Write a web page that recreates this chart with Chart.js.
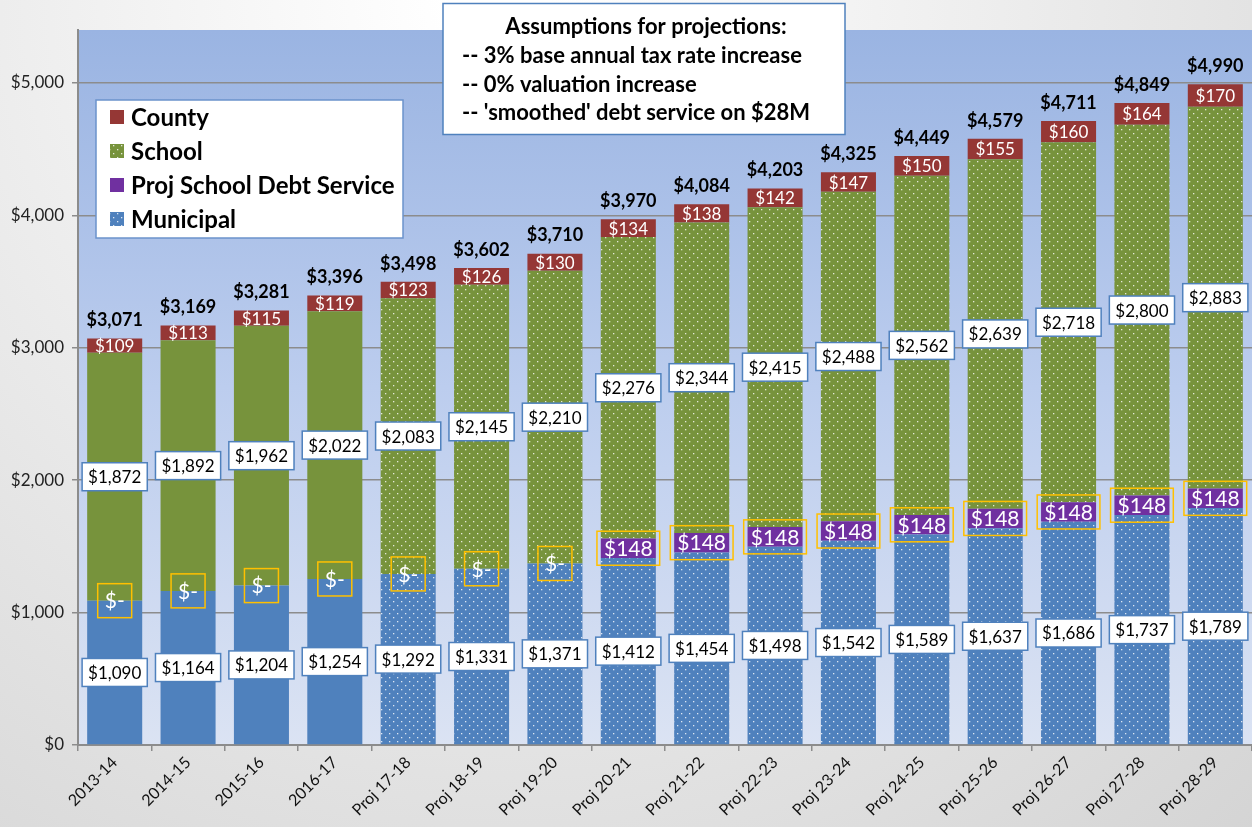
<!DOCTYPE html>
<html>
<head>
<meta charset="utf-8">
<script src="https://cdn.jsdelivr.net/npm/chart.js@4/dist/chart.umd.min.js"></script>
<style>
  body { margin: 0; background: #eee; }
  #wrap { width: 1252px; height: 827px; position: relative; }
</style>
</head>
<body>
<div id="wrap"><canvas id="grafico"></canvas></div>
<script>
const categories = ['2013-14', '2014-15', '2015-16', '2016-17', 'Proj 17-18', 'Proj 18-19', 'Proj 19-20',
  'Proj 20-21', 'Proj 21-22', 'Proj 22-23', 'Proj 23-24', 'Proj 24-25', 'Proj 25-26', 'Proj 26-27',
  'Proj 27-28', 'Proj 28-29'];
const municipal = [1090, 1164, 1204, 1254, 1292, 1331, 1371, 1412, 1454, 1498, 1542, 1589, 1637, 1686, 1737, 1789];
const debtService = [0, 0, 0, 0, 0, 0, 0, 148, 148, 148, 148, 148, 148, 148, 148, 148];
const school = [1872, 1892, 1962, 2022, 2083, 2145, 2210, 2276, 2344, 2415, 2488, 2562, 2639, 2718, 2800, 2883];
const county = [109, 113, 115, 119, 123, 126, 130, 134, 138, 142, 147, 150, 155, 160, 164, 170];
const totals = [3071, 3169, 3281, 3396, 3498, 3602, 3710, 3970, 4084, 4203, 4325, 4449, 4579, 4711, 4849, 4990];
const yTicks = [0, 1000, 2000, 3000, 4000, 5000];
const assumptions = ['Assumptions for projections:', '-- 3% base annual tax rate increase',
  '-- 0% valuation increase', "-- 'smoothed' debt service on $28M"];

const FONT = 'Lato, "Open Sans", sans-serif';
const firstProj = 4;

function makePattern(color) {
  const c = document.createElement('canvas');
  c.width = 8; c.height = 8;
  const g = c.getContext('2d');
  g.fillStyle = color;
  g.fillRect(0, 0, 8, 8);
  g.fillStyle = 'rgba(255,255,255,0.8)';
  g.fillRect(1, 1, 1.3, 1.3);
  g.fillRect(5, 5, 1.3, 1.3);
  return g.createPattern(c, 'repeat');
}

function fills(color) {
  const pat = makePattern(color);
  return categories.map((c, i) => i >= firstProj ? pat : color);
}

const money = v => '$' + v.toLocaleString('en-US');

function box(ctx, x, y, w, h, fill, stroke, lw) {
  if (fill) { ctx.fillStyle = fill; ctx.fillRect(x - w / 2, y - h / 2, w, h); }
  ctx.strokeStyle = stroke;
  ctx.lineWidth = lw;
  ctx.strokeRect(x - w / 2, y - h / 2, w, h);
}

const backgroundPlugin = {
  id: 'sfondo',
  beforeDraw(chart) {
    const { ctx, chartArea: a, width, height } = chart;
    ctx.save();
    const rg = ctx.createRadialGradient(width * 0.4, 0, 50, width * 0.4, 0, width * 0.9);
    rg.addColorStop(0, '#ffffff');
    rg.addColorStop(1, '#d4d4d4');
    ctx.fillStyle = rg;
    ctx.fillRect(0, 0, width, height);
    const lg = ctx.createLinearGradient(0, a.top, 0, a.bottom);
    lg.addColorStop(0, '#9ab4e2');
    lg.addColorStop(0.5, '#bccdee');
    lg.addColorStop(1, '#dbe3f3');
    ctx.fillStyle = lg;
    ctx.fillRect(a.left, a.top, a.right - a.left, a.bottom - a.top);
    ctx.restore();
  }
};

const labelPlugin = {
  id: 'etichette',
  afterDatasetsDraw(chart) {
    const ctx = chart.ctx;
    ctx.save();
    ctx.textAlign = 'center';
    ctx.textBaseline = 'middle';
    chart.data.datasets.forEach((ds, di) => {
      const meta = chart.getDatasetMeta(di);
      meta.data.forEach((el, i) => {
        const cy = (el.y + el.base) / 2;
        const v = ds.data[i];
        if (ds.label === 'Municipal' || ds.label === 'School') {
          ctx.font = '17px ' + FONT;
          const t = money(v);
          const w = ctx.measureText(t).width + 12;
          box(ctx, el.x, cy, w, 28, '#ffffff', '#4f81bd', 1.5);
          ctx.fillStyle = '#000';
          ctx.fillText(t, el.x, cy + 1);
        } else if (ds.label === 'County') {
          ctx.font = '17px ' + FONT;
          ctx.fillStyle = '#fff';
          ctx.fillText(money(v), el.x, cy + 1);
        } else {
          ctx.font = '21px ' + FONT;
          const t = v === 0 ? '$-' : money(v);
          const w = ctx.measureText(t).width + 14;
          box(ctx, el.x, cy, w, 34, null, '#ffc000', 1.5);
          ctx.fillStyle = '#fff';
          ctx.fillText(t, el.x, cy + 1);
        }
      });
    });
    // totals on top
    const top = chart.getDatasetMeta(chart.data.datasets.length - 1);
    ctx.font = 'bold 18px ' + FONT;
    ctx.fillStyle = '#000';
    top.data.forEach((el, i) => {
      ctx.fillText(money(totals[i]), el.x, el.y - 18);
    });
    ctx.restore();
  },
  afterDraw(chart) {
    const ctx = chart.ctx;
    ctx.save();
    // legend box
    box(ctx, 249.5, 169, 307, 138, '#ffffff', '#6b93cb', 1.5);
    const items = chart.data.datasets.slice().reverse();
    ctx.textAlign = 'left';
    ctx.textBaseline = 'middle';
    ctx.font = 'bold 24px ' + FONT;
    items.forEach((ds, k) => {
      const y = 117 + k * 34;
      const f = Array.isArray(ds.backgroundColor) ? ds.backgroundColor[ds.backgroundColor.length - 1] : ds.backgroundColor;
      ctx.fillStyle = f;
      ctx.fillRect(110, y - 7, 14, 14);
      ctx.fillStyle = '#000';
      ctx.fillText(ds.label, 131, y + 1);
    });
    // assumptions box
    box(ctx, 644, 69, 402, 131, '#ffffff', '#4f81bd', 1.5);
    ctx.fillStyle = '#000';
    ctx.font = 'bold 22px ' + FONT;
    ctx.textAlign = 'center';
    ctx.fillText(assumptions[0], 646, 27);
    ctx.textAlign = 'left';
    assumptions.slice(1).forEach((t, k) => {
      ctx.fillText(t, 462, 56 + k * 28.5);
    });
    ctx.restore();
  }
};

const ctx = document.getElementById('grafico').getContext('2d');
new Chart(ctx, {
  type: 'bar',
  data: {
    labels: categories,
    datasets: [
      { label: 'Municipal', data: municipal, backgroundColor: fills('#4f81bd') },
      { label: 'Proj School Debt Service', data: debtService, backgroundColor: '#7030a0' },
      { label: 'School', data: school, backgroundColor: fills('#77933c') },
      { label: 'County', data: county, backgroundColor: '#953735' },
    ],
  },
  options: {
    responsive: true,
    maintainAspectRatio: false,
    animation: false,
    layout: { padding: { top: 30, right: 0, left: 0, bottom: 0 } },
    datasets: { bar: { barPercentage: 0.75, categoryPercentage: 1 } },
    plugins: { legend: { display: false }, tooltip: { enabled: false } },
    scales: {
      x: {
        stacked: true,
        grid: { drawOnChartArea: false, color: '#8c8c8c', tickLength: 6, lineWidth: 1.5 },
        border: { color: '#8c8c8c', width: 2 },
        ticks: { minRotation: 45, maxRotation: 45, color: '#111', font: { family: FONT, size: 16 }, padding: 2 },
        afterFit: s => { s.height = 82; },
      },
      y: {
        stacked: true,
        min: 0,
        max: 5400,
        afterBuildTicks: s => { s.ticks = yTicks.map(v => ({ value: v })); },
        grid: { color: '#8c8c8c', lineWidth: 1.5, tickLength: 6 },
        border: { color: '#8c8c8c', width: 2 },
        ticks: { color: '#222', font: { family: FONT, size: 17 }, padding: 8, callback: v => money(v) },
        afterFit: s => { s.width = 78; },
      },
    },
  },
  plugins: [backgroundPlugin, labelPlugin],
});
</script>
</body>
</html>
